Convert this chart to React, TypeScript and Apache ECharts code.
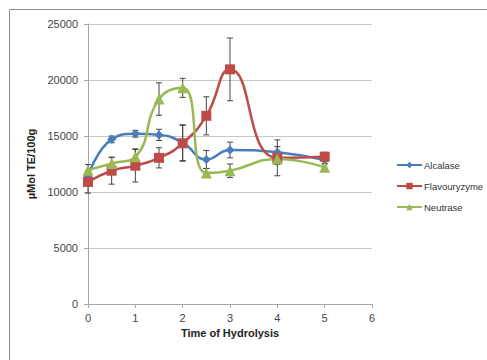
import React, { useEffect, useRef } from "react";
import * as echarts from "echarts";

const times = [0, 0.5, 1, 1.5, 2, 2.5, 3, 4, 5];
const alcalase = [11400, 14700, 15200, 15100, 14400, 12900, 13750, 13550, 12850];
const flavourzyme = [10900, 11900, 12350, 13050, 14350, 16800, 20950, 13050, 13150];
const neutrase = [11950, 12550, 13150, 18300, 19300, 11700, 11900, 12950, 12200];
const alcalaseErr = [400, 300, 300, 500, 1600, 800, 700, 500, 300];
const flavourzymeErr = [1000, 1200, 1450, 900, 1600, 1700, 2800, 1600, 400];
const neutraseErr = [500, 550, 700, 1450, 850, 400, 600, 500, 300];
const seriesNames = ["Alcalase", "Flavouryzyme", "Neutrase"];
const xTicks = [0, 1, 2, 3, 4, 5, 6];

const colors = ["#4A7EBB", "#BE4B48", "#98B954"];

function errData(vals: number[], errs: number[]) {
  return times.map((t, i) => [t, vals[i] - errs[i], vals[i] + errs[i]]);
}

function errSeries(name: string, vals: number[], errs: number[]) {
  return {
    type: "custom",
    name: name + " err",
    data: errData(vals, errs),
    z: 1,
    silent: true,
    renderItem: (params: any, api: any) => {
      const x = api.value(0);
      const lo = api.coord([x, api.value(1)]);
      const hi = api.coord([x, api.value(2)]);
      const w = 3;
      const style = { stroke: "#444", lineWidth: 1, fill: "none" };
      return {
        type: "group",
        children: [
          { type: "line", shape: { x1: lo[0], y1: lo[1], x2: hi[0], y2: hi[1] }, style },
          { type: "line", shape: { x1: lo[0] - w, y1: lo[1], x2: lo[0] + w, y2: lo[1] }, style },
          { type: "line", shape: { x1: hi[0] - w, y1: hi[1], x2: hi[0] + w, y2: hi[1] }, style },
        ],
      };
    },
  };
}

function lineSeries(name: string, vals: number[], symbol: string, size: number, color: string) {
  return {
    type: "line",
    name,
    data: times.map((t, i) => [t, vals[i]]),
    smooth: 0.5,
    symbol,
    symbolSize: size,
    showSymbol: true,
    z: 3,
    lineStyle: { color, width: 2.5 },
    itemStyle: { color },
  };
}

export default function App() {
  const ref = useRef<HTMLDivElement>(null);
  useEffect(() => {
    if (!ref.current) return;
    const chart = echarts.init(ref.current, null, { renderer: "svg" });
    chart.setOption({
      animation: false,
      backgroundColor: "#fff",
      textStyle: { fontFamily: "Liberation Sans" },
      graphic: [
        {
          type: "rect",
          shape: { x: 9.5, y: 9.5, width: 600, height: 500 },
          style: { fill: "none", stroke: "#8c8c8c", lineWidth: 1 },
          silent: true,
          z: -1,
        },
      ],
      grid: { left: 88, right: 115, top: 24, bottom: 56 },
      legend: {
        orient: "vertical",
        left: 391,
        top: 155,
        itemWidth: 25,
        itemHeight: 8,
        itemGap: 11,
        data: seriesNames,
        textStyle: { fontSize: 9.5, color: "#333", fontFamily: "Liberation Sans", padding: [0, 0, 0, -3] },
      },
      xAxis: {
        type: "value",
        min: 0,
        max: 6,
        interval: 1,
        name: "Time of Hydrolysis",
        nameLocation: "middle",
        nameGap: 23,
        nameTextStyle: { fontWeight: "bold", fontSize: 11, color: "#222", fontFamily: "Liberation Sans" },
        axisLine: { show: true, lineStyle: { color: "#a6a6a6" } },
        axisTick: { show: true, length: 4, lineStyle: { color: "#a6a6a6" } },
        axisLabel: {
          fontSize: 11,
          color: "#444",
          margin: 8,
          formatter: (v: number) => (xTicks.includes(v) ? String(v) : ""),
        },
        splitLine: { show: false },
      },
      yAxis: {
        type: "value",
        min: 0,
        max: 25000,
        interval: 5000,
        name: "µMol TE/100g",
        nameLocation: "middle",
        nameGap: 50,
        nameRotate: 90,
        nameTextStyle: { fontWeight: "bold", fontSize: 11, color: "#222", fontFamily: "Liberation Sans" },
        axisLine: { show: true, lineStyle: { color: "#a6a6a6" } },
        axisTick: { show: true, length: 4, lineStyle: { color: "#a6a6a6" } },
        axisLabel: { fontSize: 11, color: "#444", margin: 10, formatter: (v: number) => String(v) },
        splitLine: { show: true, lineStyle: { color: "#c8c8c8", width: 1 } },
      },
      series: [
        errSeries(seriesNames[0], alcalase, alcalaseErr),
        errSeries(seriesNames[1], flavourzyme, flavourzymeErr),
        errSeries(seriesNames[2], neutrase, neutraseErr),
        lineSeries(seriesNames[0], alcalase, "diamond", 9, colors[0]),
        lineSeries(seriesNames[1], flavourzyme, "rect", 10, colors[1]),
        lineSeries(seriesNames[2], neutrase, "triangle", 11, colors[2]),
      ],
    });
    return () => chart.dispose();
  }, []);
  return <div ref={ref} style={{ width: 487, height: 360, position: "absolute", left: 0, top: 0 }} />;
}
